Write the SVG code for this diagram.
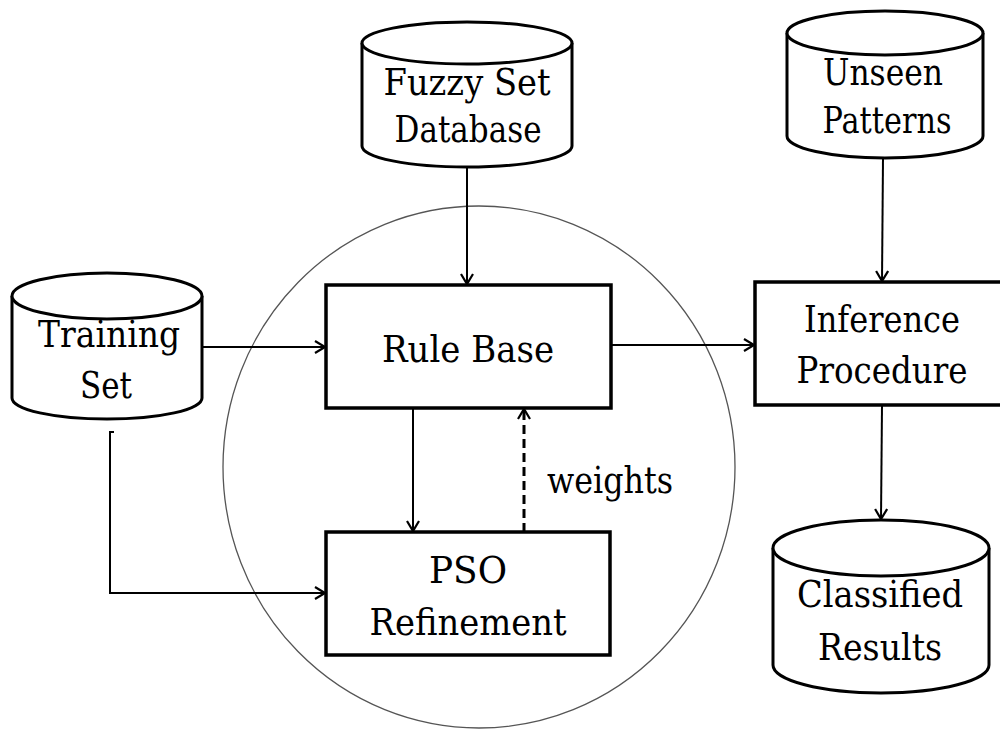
<svg xmlns="http://www.w3.org/2000/svg" width="1000" height="729" viewBox="0 0 1000 729">
<defs>
<style>
.cyl{fill:#fff;stroke:#000;stroke-width:3}
.box{fill:#fff;stroke:#000;stroke-width:3.5}
text{font-family:'DejaVu Serif','Liberation Serif',serif;font-size:38px;fill:#000;text-anchor:middle}
.c{fill:none;stroke:#000;stroke-width:2}
</style>
<marker id="arr" markerUnits="userSpaceOnUse" markerWidth="16" markerHeight="16" refX="12" refY="7" orient="auto">
<path d="M2,1 L12,7 L2,13" fill="none" stroke="#000" stroke-width="2.2"/>
</marker>
</defs>
<rect width="1000" height="729" fill="#fff"/>
<ellipse id="scope" cx="479" cy="467" rx="256" ry="261" fill="none" stroke="#555" stroke-width="1.3"/>
<g id="connectors">
<line class="c" x1="467" y1="167" x2="467" y2="284" marker-end="url(#arr)"/>
<line class="c" x1="202" y1="347" x2="325" y2="347" marker-end="url(#arr)"/>
<path class="c" d="M114,432 L110,432 L110,593 L325,593" marker-end="url(#arr)"/>
<line class="c" x1="413" y1="408" x2="413" y2="531" marker-end="url(#arr)"/>
<line class="c" x1="524" y1="532" x2="524" y2="409" style="stroke-width:3;stroke-dasharray:9,5" marker-end="url(#arr)"/>
<line class="c" x1="611" y1="345" x2="754" y2="345" marker-end="url(#arr)"/>
<line class="c" x1="883" y1="158" x2="882" y2="281" marker-end="url(#arr)"/>
<line class="c" x1="882" y1="405" x2="881" y2="519" marker-end="url(#arr)"/>
<text x="547" y="493" style="text-anchor:start" textLength="126" lengthAdjust="spacingAndGlyphs">weights</text>
</g>
<g id="fuzzy">
<path class="cyl" d="M362,43 L362,146 A105,21 0 0 0 572,146 L572,43"/>
<ellipse class="cyl" cx="467" cy="43" rx="105" ry="21"/>
<text x="467" y="95" textLength="167" lengthAdjust="spacingAndGlyphs">Fuzzy Set</text>
<text x="468" y="142" textLength="147" lengthAdjust="spacingAndGlyphs">Database</text>
</g>
<g id="unseen">
<path class="cyl" d="M787,33 L787,136 A98,22 0 0 0 983,136 L983,33"/>
<ellipse class="cyl" cx="885" cy="33" rx="98" ry="22"/>
<text x="883" y="85" textLength="120" lengthAdjust="spacingAndGlyphs">Unseen</text>
<text x="887" y="133" textLength="129" lengthAdjust="spacingAndGlyphs">Patterns</text>
</g>
<g id="training">
<path class="cyl" d="M12,296 L12,398 A95,21 0 0 0 202,398 L202,296"/>
<ellipse class="cyl" cx="107" cy="296" rx="95" ry="23"/>
<text x="109" y="347" textLength="142" lengthAdjust="spacingAndGlyphs">Training</text>
<text x="106" y="398" textLength="52" lengthAdjust="spacingAndGlyphs">Set</text>
</g>
<g id="classified">
<path class="cyl" d="M773,548 L773,665 A108,28 0 0 0 989,665 L989,548"/>
<ellipse class="cyl" cx="881" cy="548" rx="108" ry="28"/>
<text x="880" y="607" textLength="166" lengthAdjust="spacingAndGlyphs">Classified</text>
<text x="880" y="660" textLength="124" lengthAdjust="spacingAndGlyphs">Results</text>
</g>
<g id="rulebase">
<rect class="box" x="326" y="285" width="285" height="123"/>
<text x="468" y="362" textLength="172" lengthAdjust="spacingAndGlyphs">Rule Base</text>
</g>
<g id="pso">
<rect class="box" x="326" y="532" width="284" height="123"/>
<text x="468" y="583" textLength="78" lengthAdjust="spacingAndGlyphs">PSO</text>
<text x="468" y="635" textLength="197" lengthAdjust="spacingAndGlyphs">Refinement</text>
</g>
<g id="inference">
<rect class="box" x="755" y="282" width="260" height="123"/>
<text x="882" y="332" textLength="156" lengthAdjust="spacingAndGlyphs">Inference</text>
<text x="882" y="383" textLength="171" lengthAdjust="spacingAndGlyphs">Procedure</text>
</g>
</svg>
